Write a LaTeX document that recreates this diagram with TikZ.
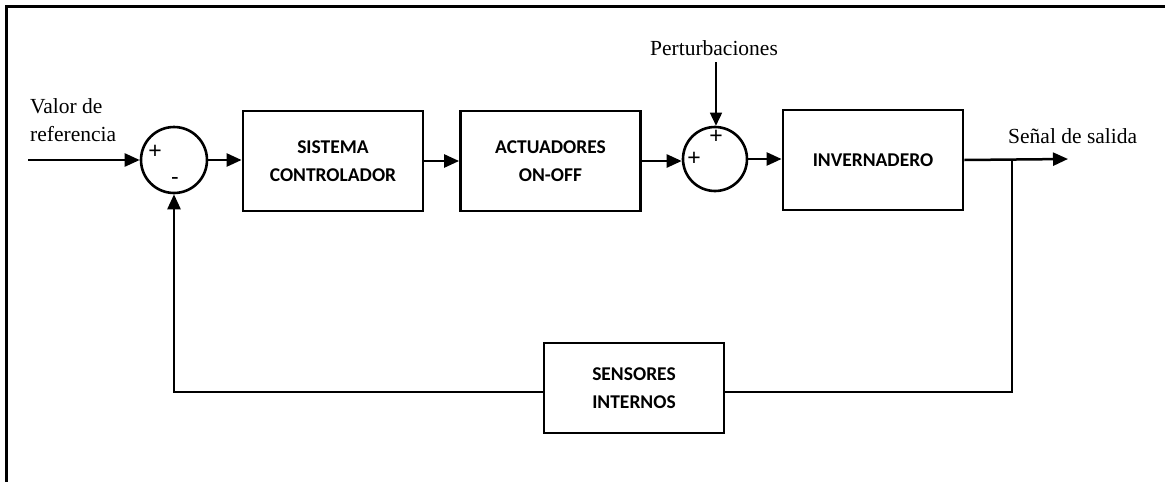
\documentclass[tikz,border=0pt]{standalone}
\usepackage{fontspec}
\setmainfont{Liberation Serif}
\newfontfamily\boxfont{Carlito}
\newfontfamily\signfont{Liberation Sans}
\usetikzlibrary{arrows.meta}
\begin{document}
\begin{tikzpicture}[x=1pt,y=-1pt,
  blk/.style={draw, line width=2.8pt, minimum width=180pt, minimum height=100pt,
    align=center, inner sep=0pt,
    font=\boxfont\bfseries\fontsize{19.5}{28.5}\selectfont},
  sumnode/.style={draw, circle, line width=2.6pt, minimum size=66pt, inner sep=0pt},
  sig/.style={line width=2.5pt, -{Triangle[length=15pt,width=13pt]}},
  thinsig/.style={line width=1.6pt, -{Triangle[length=13pt,width=12pt]}},
  wire/.style={line width=2.5pt},
  lbl/.style={font=\fontsize{21.5}{28}\selectfont, inner sep=0pt, align=left},
  sign/.style={font=\signfont\fontsize{23}{23}\selectfont, inner sep=0pt}
]
\useasboundingbox (0,0) rectangle (1165,482);

% outer frame (top and left edges)
\draw[line width=3pt] (6.5,482) -- (6.5,6.5) -- (1165,6.5);

% summing junctions
\node[sumnode] (sum1) at (174,160) {};
\node[sumnode, minimum size=64pt] (sum2) at (715,159) {};
\node[sign] (s1p) at (155,152) {+};
\node[sign] (s1m) at (175,181) {-};
\node[sign] (s2p) at (716,137) {+};
\node[sign] (s2q) at (694,159) {+};

% blocks
\node[blk] (ctrl) at (333,161) {SISTEMA\\CONTROLADOR};
\node[blk] (act)  at (550.5,161) {ACTUADORES\\ON-OFF};
\node[blk] (inv)  at (873,160) {INVERNADERO};
\node[blk, minimum height=90pt] (sens) at (634,388) {SENSORES\\INTERNOS};

% labels
\node[lbl, anchor=north west] (ref) at (30,98) {Valor de\\referencia};
\node[lbl, anchor=base] (pert) at (714,55) {Perturbaciones};
\node[lbl, anchor=base west] (outl) at (1008,143) {Señal de salida};

% free ends and corners
\coordinate (in) at (28,160);
\coordinate (out) at (1068,159);
\coordinate (br) at (1012,159);
\coordinate (fbr) at (1012,392);
\coordinate (fbl) at (174,392);
\coordinate (dist) at (716,62);

% forward path
\draw[sig] (in) -- (sum1.west);
\draw[sig] (sum1.east) -- (sum1.east -| ctrl.west);
\draw[sig] (ctrl.east) -- (act.west);
\draw[sig] (act.east) -- (act.east -| sum2.west);
\draw[sig] (sum2.east) -- (sum2.east -| inv.west);
\draw[sig] (inv.east) -- (out);
\draw[thinsig] (dist) -- (dist |- sum2.north);

% feedback path
\draw[wire] (br) -- (fbr) -- (fbr -| sens.east);
\draw[sig] (fbl -| sens.west) -- (fbl) -- (sum1.south);
\end{tikzpicture}
\end{document}
